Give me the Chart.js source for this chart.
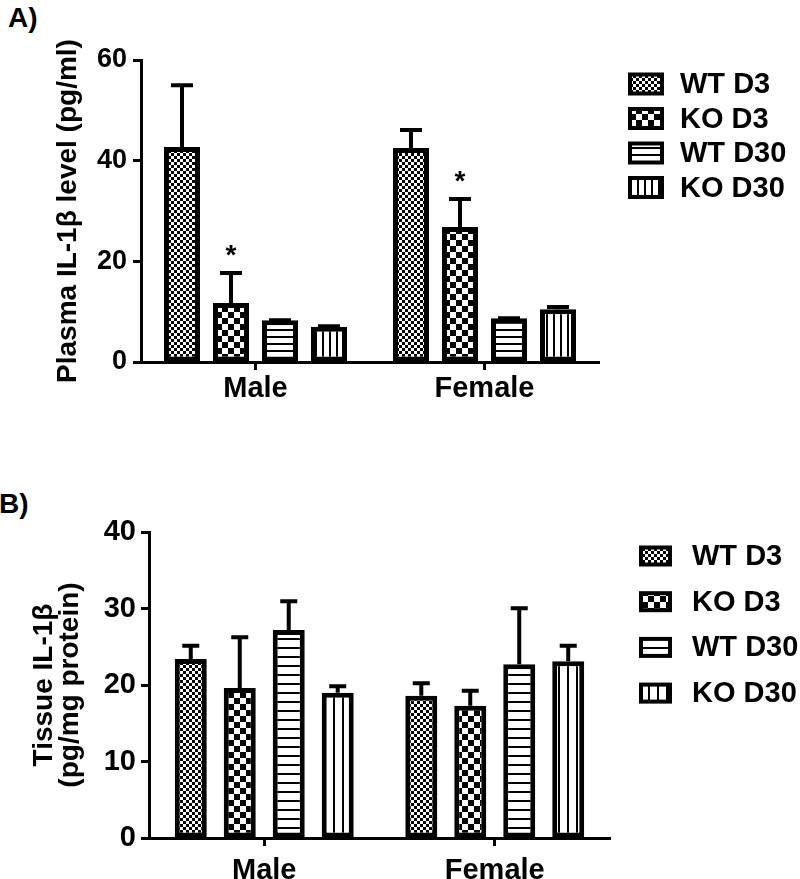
<!DOCTYPE html>
<html>
<head>
<meta charset="utf-8">
<script src="https://cdn.jsdelivr.net/npm/chart.js@4.4.0/dist/chart.umd.min.js"></script>
<style>
body { margin: 0; background: #fff; width: 800px; height: 879px; overflow: hidden; position: relative; font-family: "Liberation Sans", Arial, sans-serif; }
.wrap { position: absolute; left: 0; width: 800px; }
#wrapA { top: 0; height: 440px; }
#wrapB { top: 440px; height: 439px; }
.tag { position: absolute; font-weight: bold; font-size: 28px; line-height: 28px; }
</style>
</head>
<body>
<div class="tag" style="left:8px;top:4px">A)</div>
<div class="tag" style="left:-1px;top:490px">B)</div>
<div class="wrap" id="wrapA"><canvas id="chartA"></canvas></div>
<div class="wrap" id="wrapB"><canvas id="chartB"></canvas></div>
<script>
const groups = ['Male', 'Female'];
const seriesNames = ['WT D3', 'KO D3', 'WT D30', 'KO D30'];

// A) plasma IL-1b, mean and SEM for [Male, Female]
const plasmaWTD3 = [42.7, 42.5];
const plasmaKOD3 = [11.7, 26.8];
const plasmaWTD30 = [8.3, 8.7];
const plasmaKOD30 = [7.0, 10.5];
const plasmaSemWTD3 = [12.7, 4.0];
const plasmaSemKOD3 = [6.4, 6.0];
const plasmaSemWTD30 = [0.4, 0.4];
const plasmaSemKOD30 = [0.5, 0.8];
const plasmaSigKOD3 = [true, true];
const plasmaTicks = [0, 20, 40, 60];

// B) tissue IL-1b, mean and SEM for [Male, Female]
const tissueWTD3 = [23.4, 18.6];
const tissueKOD3 = [19.6, 17.3];
const tissueWTD30 = [27.2, 22.7];
const tissueKOD30 = [19.0, 23.1];
const tissueSemWTD3 = [2.0, 1.9];
const tissueSemKOD3 = [6.9, 2.2];
const tissueSemWTD30 = [4.0, 7.6];
const tissueSemKOD30 = [1.1, 2.3];
const tissueTicks = [0, 10, 20, 30, 40];

const FONT = '"Liberation Sans", Arial, sans-serif';

// black & white fills like the original figure
function makePattern(ctx, kind, gap) {
    const c = document.createElement('canvas');
    const g = c.getContext('2d');
    if (kind === 'fine') {
        c.width = 6; c.height = 6;
        g.fillStyle = '#fff'; g.fillRect(0, 0, 6, 6);
        g.fillStyle = '#000'; g.fillRect(0, 0, 3, 3); g.fillRect(3, 3, 3, 3);
    } else if (kind === 'check') {
        c.width = 12; c.height = 12;
        g.fillStyle = '#fff'; g.fillRect(0, 0, 12, 12);
        g.fillStyle = '#000'; g.fillRect(0, 0, 6, 6); g.fillRect(6, 6, 6, 6);
    } else if (kind === 'hline') {
        c.width = 4; c.height = gap;
        g.fillStyle = '#fff'; g.fillRect(0, 0, 4, gap);
        g.fillStyle = '#000'; g.fillRect(0, 0, 4, 2);
    } else {
        c.width = gap; c.height = 4;
        g.fillStyle = '#fff'; g.fillRect(0, 0, gap, 4);
        g.fillStyle = '#000'; g.fillRect(0, 0, 2, 4);
    }
    return ctx.createPattern(c, 'repeat');
}

const errorBars = {
    id: 'errorBars',
    afterDatasetsDraw(chart, args, opts) {
        const ctx = chart.ctx;
        const y = chart.scales.y;
        ctx.save();
        ctx.strokeStyle = '#000';
        ctx.fillStyle = '#000';
        ctx.lineWidth = opts.width;
        ctx.font = 'bold 28px ' + FONT;
        ctx.textAlign = 'center';
        ctx.textBaseline = 'alphabetic';
        chart.data.datasets.forEach((ds, i) => {
            chart.getDatasetMeta(i).data.forEach((bar, j) => {
                const top = y.getPixelForValue(ds.data[j] + ds.sem[j]);
                ctx.beginPath();
                ctx.moveTo(bar.x, bar.y);
                ctx.lineTo(bar.x, top);
                ctx.moveTo(bar.x - opts.cap / 2, top + opts.width / 2);
                ctx.lineTo(bar.x + opts.cap / 2, top + opts.width / 2);
                ctx.stroke();
                if (ds.sig && ds.sig[j]) ctx.fillText('*', bar.x, top - 7);
            });
        });
        ctx.restore();
    }
};

const sideLegend = {
    id: 'sideLegend',
    afterDraw(chart, args, o) {
        const ctx = chart.ctx;
        ctx.save();
        ctx.font = 'bold 29px ' + FONT;
        ctx.textBaseline = 'middle';
        chart.data.datasets.forEach((ds, i) => {
            const cy = o.y + i * o.step;
            ctx.fillStyle = '#000';
            ctx.fillRect(o.x, cy - o.h / 2, o.w, o.h);
            ctx.fillStyle = ds.backgroundColor;
            ctx.fillRect(o.x + 4, cy - o.h / 2 + 4, o.w - 8, o.h - 8);
            ctx.fillStyle = '#000';
            ctx.fillText(ds.label, o.textX, cy + 1);
        });
        ctx.restore();
    }
};

function axisFont(size) {
    return { family: FONT, size: size, weight: 'bold' };
}

function buildOptions(c) {
    return {
        responsive: true,
        maintainAspectRatio: false,
        animation: false,
        layout: { padding: c.padding },
        datasets: {
            bar: {
                categoryPercentage: c.catPct,
                barPercentage: c.barPct,
                borderWidth: 5,
                borderColor: '#000',
                borderSkipped: false
            }
        },
        plugins: {
            legend: { display: false },
            tooltip: { enabled: false },
            errorBars: { width: 4, cap: c.cap },
            sideLegend: c.legend
        },
        scales: {
            x: {
                grid: { offset: false, drawOnChartArea: false, tickLength: 8, tickWidth: 3, color: '#000' },
                border: { color: '#000', width: 3 },
                ticks: { color: '#000', font: axisFont(29), padding: c.xPad },
                afterFit(s) { s.height = c.xHeight; }
            },
            y: {
                min: 0,
                max: c.ticks[c.ticks.length - 1],
                afterBuildTicks(s) { s.ticks = c.ticks.map(v => ({ value: v })); },
                grid: { drawOnChartArea: false, tickLength: 8, tickWidth: 3, color: '#000' },
                border: { color: '#000', width: 3 },
                ticks: { color: '#000', font: axisFont(c.tickSize), padding: c.yPad },
                title: {
                    display: true,
                    text: c.title,
                    color: '#000',
                    font: { family: FONT, size: 28, weight: 'bold', lineHeight: c.titleLH },
                    padding: { top: c.titlePad, bottom: 0 }
                },
                afterFit(s) { s.width = c.yWidth; }
            }
        }
    };
}

// panel A
const ctxA = document.getElementById('chartA').getContext('2d');
const patA = [makePattern(ctxA, 'fine'), makePattern(ctxA, 'check'), makePattern(ctxA, 'hline', 7), makePattern(ctxA, 'vline', 7)];
new Chart(ctxA, {
    type: 'bar',
    data: {
        labels: groups,
        datasets: [
            { label: seriesNames[0], data: plasmaWTD3, sem: plasmaSemWTD3, backgroundColor: patA[0] },
            { label: seriesNames[1], data: plasmaKOD3, sem: plasmaSemKOD3, sig: plasmaSigKOD3, backgroundColor: patA[1] },
            { label: seriesNames[2], data: plasmaWTD30, sem: plasmaSemWTD30, backgroundColor: patA[2] },
            { label: seriesNames[3], data: plasmaKOD30, sem: plasmaSemKOD30, backgroundColor: patA[3] }
        ]
    },
    options: buildOptions({
        padding: { left: 0, top: 60, right: 201, bottom: 28 },
        catPct: 0.856, barPct: 0.735, cap: 22,
        legend: { x: 628, y: 84, step: 34.5, w: 36, h: 23, textX: 680 },
        xPad: 2, xHeight: 50,
        ticks: plasmaTicks, tickSize: 27, yPad: 6, yWidth: 141,
        title: 'Plasma IL-1\u03b2 level (pg/ml)', titleLH: 1.2, titlePad: 51
    }),
    plugins: [errorBars, sideLegend]
});

// panel B
const ctxB = document.getElementById('chartB').getContext('2d');
const patB = [makePattern(ctxB, 'fine'), makePattern(ctxB, 'check'), makePattern(ctxB, 'hline', 9), makePattern(ctxB, 'vline', 9)];
new Chart(ctxB, {
    type: 'bar',
    data: {
        labels: groups,
        datasets: [
            { label: seriesNames[0], data: tissueWTD3, sem: tissueSemWTD3, backgroundColor: patB[0] },
            { label: seriesNames[1], data: tissueKOD3, sem: tissueSemKOD3, backgroundColor: patB[1] },
            { label: seriesNames[2], data: tissueWTD30, sem: tissueSemWTD30, backgroundColor: patB[2] },
            { label: seriesNames[3], data: tissueKOD30, sem: tissueSemKOD30, backgroundColor: patB[3] }
        ]
    },
    options: buildOptions({
        padding: { left: 0, top: 92, right: 190, bottom: 0 },
        catPct: 0.85, barPct: 0.653, cap: 17,
        legend: { x: 639, y: 116, step: 45.7, w: 33, h: 21, textX: 692 },
        xPad: 8, xHeight: 41,
        ticks: tissueTicks, tickSize: 29, yPad: 5, yWidth: 149,
        title: ['Tissue IL-1\u03b2', '(pg/mg protein)'], titleLH: 0.9, titlePad: 32
    }),
    plugins: [errorBars, sideLegend]
});
</script>
</body>
</html>
